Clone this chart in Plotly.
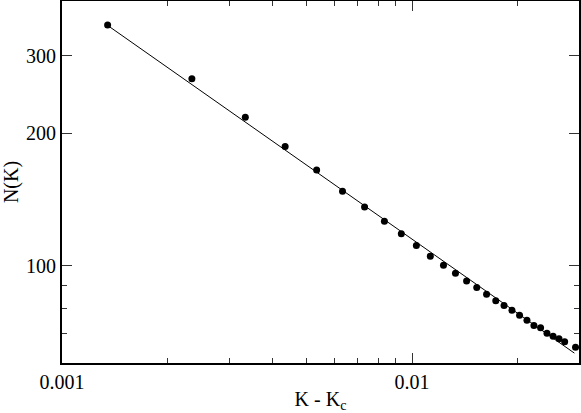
import plotly.graph_objects as go

# measured N(K) vs K - Kc
dk = [0.00135, 0.00235, 0.00334, 0.00434, 0.00534, 0.00633, 0.00732, 0.00834,
      0.00932, 0.01029, 0.01128, 0.01230, 0.01331, 0.01432, 0.01531, 0.01633,
      0.01735, 0.01832, 0.01930, 0.02029, 0.02130, 0.02230, 0.02330, 0.02430,
      0.02530, 0.02630, 0.02730, 0.02932]
n_k = [352.8, 266.1, 217.5, 186.6, 164.9, 147.7, 135.9, 126.1,
       118.1, 111.1, 105.0, 100.1, 96.1, 92.2, 89.1, 86.0,
       83.2, 81.1, 79.1, 77.1, 75.1, 73.0, 72.2, 70.1,
       69.0, 68.1, 67.1, 65.2]

# power-law fit, drawn between its two ends
fit_dk = [0.00135, 0.0291]
fit_n = [352.0, 63.2]

x_major = [0.001, 0.01]
x_major_text = ["0.001", "0.01"]
x_minor = [0.002, 0.003, 0.004, 0.005, 0.006, 0.007, 0.008, 0.009, 0.02, 0.03]
y_major = [100, 200, 300]
y_major_text = ["100", "200", "300"]
y_minor = [70, 80, 90]

FONT = "Liberation Serif, Times New Roman, serif"

fig = go.Figure()
fig.add_trace(
    go.Scatter(
        x=fit_dk,
        y=fit_n,
        mode="lines",
        line=dict(color="black", width=1),
        showlegend=False,
    )
)
fig.add_trace(
    go.Scatter(
        x=dk,
        y=n_k,
        mode="markers",
        marker=dict(color="black", size=7),
        showlegend=False,
        cliponaxis=False,
    )
)

axis_common = dict(
    type="log",
    automargin=False,
    showgrid=False,
    zeroline=False,
    showline=True,
    linecolor="black",
    linewidth=2,
    mirror="allticks",
    ticks="inside",
    ticklen=10,
    tickwidth=1,
    tickcolor="#333333",
    tickfont=dict(family=FONT, size=20, color="black"),
)

fig.update_layout(
    width=581,
    height=413,
    margin=dict(l=62, r=2, t=1, b=50),
    paper_bgcolor="white",
    plot_bgcolor="white",
    font=dict(family=FONT, size=20, color="black"),
    xaxis=dict(
        axis_common,
        range=[-3, -1.5229],
        tickmode="array",
        tickvals=x_major,
        ticktext=x_major_text,
        minor=dict(tickmode="array", tickvals=x_minor, ticks="inside",
                   ticklen=5, tickwidth=1, tickcolor="#333333"),
        title=dict(text="K - K<sub>c</sub>", font=dict(family=FONT, size=20), standoff=2),
    ),
    yaxis=dict(
        axis_common,
        range=[1.7782, 2.6021],
        tickmode="array",
        tickvals=y_major,
        ticktext=y_major_text,
        minor=dict(tickmode="array", tickvals=y_minor, ticks="inside",
                   ticklen=5, tickwidth=1, tickcolor="#333333"),
        title=dict(text="N(K)", font=dict(family=FONT, size=20), standoff=4),
    ),
)

# the page body has a default 8px margin; drop it so the figure fills the window
fig.write_html(
    "out.html",
    config={"displayModeBar": False},
    post_script="document.body.style.margin='0';",
)
